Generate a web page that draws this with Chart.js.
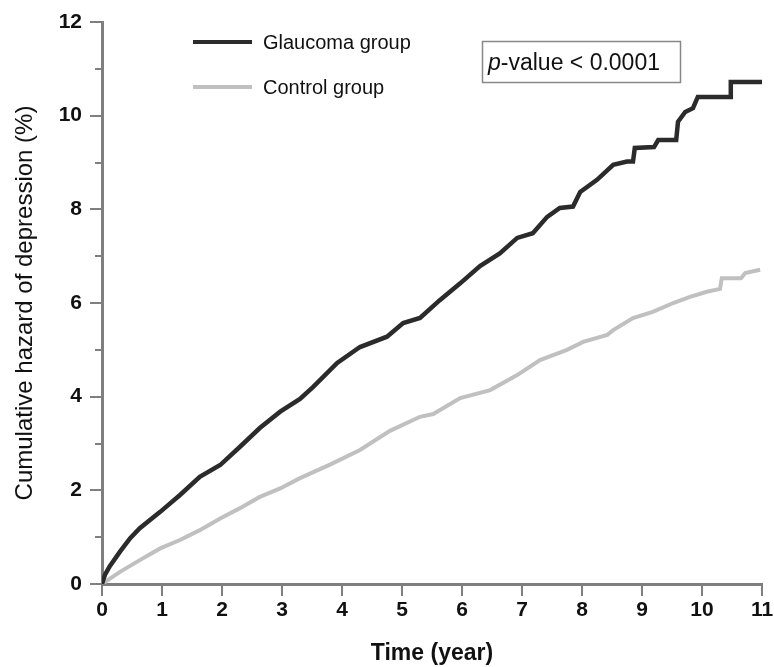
<!DOCTYPE html>
<html>
<head>
<meta charset="utf-8">
<script src="https://cdn.jsdelivr.net/npm/chart.js@4.4.1/dist/chart.umd.min.js"></script>
<style>
  body { margin: 0; background: #fff; }
</style>
</head>
<body>
<canvas id="hazardChart" width="774" height="667"></canvas>
<script>
// cumulative hazard (%)
const timeGlaucoma = [0, 0.05, 0.13, 0.3, 0.47, 0.63, 0.97, 1.3, 1.63, 1.97, 2.3, 2.63, 2.97, 3.3, 3.52, 3.92, 4.3, 4.75, 5.02, 5.3, 5.63, 5.97, 6.3, 6.63, 6.92, 7.18, 7.42, 7.63, 7.85, 7.97, 8.25, 8.52, 8.75, 8.85, 8.88, 9.2, 9.27, 9.57, 9.6, 9.72, 9.85, 9.93, 10.47, 10.48, 11];
const hazardGlaucoma = [0, 0.2, 0.38, 0.69, 0.98, 1.19, 1.54, 1.9, 2.29, 2.54, 2.93, 3.33, 3.68, 3.95, 4.21, 4.72, 5.06, 5.28, 5.57, 5.68, 6.06, 6.42, 6.79, 7.06, 7.39, 7.49, 7.84, 8.03, 8.06, 8.37, 8.63, 8.95, 9.02, 9.02, 9.31, 9.33, 9.48, 9.48, 9.87, 10.08, 10.16, 10.4, 10.4, 10.72, 10.72];

const timeControl = [0, 0.3, 0.63, 0.97, 1.3, 1.63, 1.97, 2.3, 2.63, 2.97, 3.3, 3.8, 4.3, 4.8, 5.3, 5.52, 5.97, 6.47, 6.92, 7.3, 7.75, 8.02, 8.42, 8.52, 8.85, 9.18, 9.52, 9.8, 10.08, 10.3, 10.33, 10.65, 10.72, 10.97];
const hazardControl = [0, 0.26, 0.51, 0.76, 0.94, 1.15, 1.4, 1.62, 1.86, 2.04, 2.26, 2.55, 2.86, 3.27, 3.57, 3.63, 3.97, 4.14, 4.46, 4.78, 5.0, 5.17, 5.32, 5.42, 5.68, 5.81, 6.0, 6.13, 6.24, 6.3, 6.53, 6.53, 6.64, 6.71];

const seriesNames = ['Glaucoma group', 'Control group'];
const pValueText = ['p', '-value < 0.0001'];

const FONT = "'Liberation Sans', Arial, sans-serif";
const AXIS_GRAY = '#7f7f7f';

const ctx = document.querySelector('#hazardChart');

const toPoints = (xs, ys) => xs.map((x, i) => ({ x: x, y: ys[i] }));

// tick marks: long on labelled values, short on the others
const tickMarks = {
  id: 'tickMarks',
  afterDraw(chart) {
    const c = chart.ctx;
    const area = chart.chartArea;
    const xs = chart.scales.x;
    const ys = chart.scales.y;
    c.save();
    c.strokeStyle = AXIS_GRAY;
    c.lineWidth = 2;
    ys.ticks.forEach(t => {
      const py = Math.round(ys.getPixelForValue(t.value));
      const len = t.value % 2 === 0 ? 12 : 7;
      c.beginPath();
      c.moveTo(area.left - len, py);
      c.lineTo(area.left, py);
      c.stroke();
    });
    xs.ticks.forEach(t => {
      const px = Math.round(xs.getPixelForValue(t.value));
      c.beginPath();
      c.moveTo(px, area.bottom);
      c.lineTo(px, area.bottom + 12);
      c.stroke();
    });
    c.restore();
  }
};

// legend and p-value box inside the plot
const notes = {
  id: 'notes',
  afterDraw(chart) {
    const c = chart.ctx;
    const area = chart.chartArea;
    c.save();
    chart.data.datasets.forEach((ds, i) => {
      const y = 42 + i * 45;
      c.strokeStyle = ds.borderColor;
      c.lineWidth = 4;
      c.beginPath();
      c.moveTo(area.left + 91, y);
      c.lineTo(area.left + 150, y);
      c.stroke();
      c.fillStyle = '#111';
      c.font = '20px ' + FONT;
      c.textBaseline = 'middle';
      c.textAlign = 'left';
      c.fillText(ds.label, area.left + 161, y + 1);
    });

    c.strokeStyle = '#888';
    c.lineWidth = 1.5;
    c.strokeRect(482.5, 41.5, 198, 41);
    c.fillStyle = '#111';
    c.textBaseline = 'alphabetic';
    c.font = 'italic 23px ' + FONT;
    c.fillText(pValueText[0], 488, 70);
    const w = c.measureText(pValueText[0]).width;
    c.font = '23px ' + FONT;
    c.fillText(pValueText[1], 488 + w, 70);
    c.restore();
  }
};

new Chart(ctx, {
  type: 'line',
  data: {
    datasets: [{
      label: seriesNames[0],
      data: toPoints(timeGlaucoma, hazardGlaucoma),
      borderColor: '#2b2b2b',
      borderWidth: 4.5,
      pointRadius: 0,
      tension: 0
    },
    {
      label: seriesNames[1],
      data: toPoints(timeControl, hazardControl),
      borderColor: '#c0c0c0',
      borderWidth: 4,
      pointRadius: 0,
      tension: 0
    }]
  },
  options: {
    responsive: false,
    animation: false,
    layout: { padding: 0 },
    plugins: {
      legend: { display: false },
      tooltip: { enabled: false }
    },
    scales: {
      x: {
        type: 'linear',
        min: 0,
        max: 11,
        afterFit: s => { s.height = 83; s.paddingRight = 12; s.paddingLeft = 0; },
        border: { color: AXIS_GRAY, width: 3 },
        grid: { display: true, drawOnChartArea: false, drawTicks: false },
        ticks: { stepSize: 1, padding: 14, color: '#111', font: { family: FONT, size: 21, weight: 'bold' } },
        title: { display: true, text: 'Time (year)', color: '#111', padding: 0, font: { family: FONT, size: 23, weight: 'bold' } }
      },
      y: {
        min: 0,
        max: 12,
        afterFit: s => { s.width = 102; s.paddingTop = 22; s.paddingBottom = 0; },
        border: { color: AXIS_GRAY, width: 3 },
        grid: { display: true, drawOnChartArea: false, drawTicks: false },
        ticks: {
          stepSize: 1,
          autoSkip: false,
          padding: 20,
          color: '#111',
          font: { family: FONT, size: 21, weight: 'bold' },
          callback: v => v % 2 === 0 ? v : ''
        },
        title: { display: true, text: 'Cumulative hazard of depression (%)', color: '#111', padding: { top: 11, bottom: 0 }, font: { family: FONT, size: 24 } }
      }
    }
  },
  plugins: [tickMarks, notes]
});
</script>
</body>
</html>
